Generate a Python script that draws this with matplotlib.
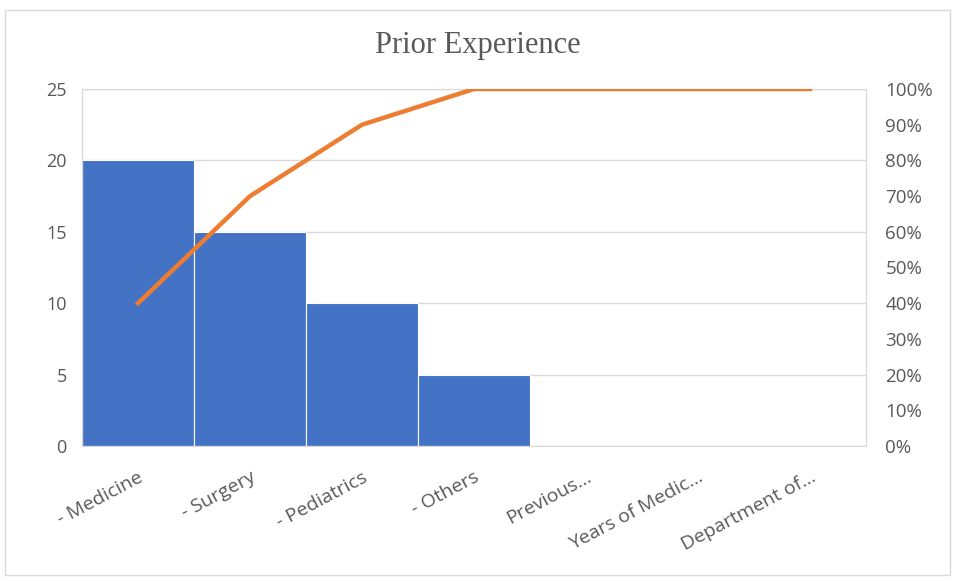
import matplotlib.pyplot as plt
import matplotlib.patches as patches
from matplotlib.ticker import PercentFormatter

categories = ["- Medicine", "- Surgery", "- Pediatrics", "- Others",
              "Previous...", "Years of Medic...", "Department of..."]
counts = [20, 15, 10, 5, 0, 0, 0]
cumulative_pct = [40, 70, 90, 100, 100, 100, 100]

GRAY = "#595959"
GRID = "#d9d9d9"

fig = plt.figure(figsize=(9.55, 5.81), dpi=100)
ax = fig.add_axes([0.0859, 0.2324, 0.8209, 0.6144])

# outer chart border
fig.patches.append(patches.Rectangle((0.005, 0.01), 0.99, 0.973, transform=fig.transFigure,
                                     fill=False, edgecolor=GRID, linewidth=1))

x = list(range(len(categories)))
ax.bar(x, counts, width=1.0, color="#4472C4", edgecolor="white", linewidth=0.8, zorder=2)
ax.set_xlim(-0.5, len(categories) - 0.5)
ax.set_ylim(0, 25)
ax.set_yticks([0, 5, 10, 15, 20, 25])
ax.yaxis.grid(True, color=GRID, linewidth=1, zorder=0)
ax.set_axisbelow(True)
for s in ax.spines.values():
    s.set_color(GRID)
ax.tick_params(axis="y", length=0, colors=GRAY, labelsize=13, pad=11)
ax.tick_params(axis="x", length=0, colors=GRAY, pad=16)
ax.set_xticks(x)
ax.set_xticklabels(categories, rotation=28, ha="right", rotation_mode="anchor",
                   fontfamily="Open Sans", fontsize=14)
for lbl in ax.get_yticklabels():
    lbl.set_fontfamily("Open Sans")

ax2 = ax.twinx()
ax2.plot(x, cumulative_pct, color="#ED7D31", linewidth=3.2, zorder=3)
ax2.set_ylim(0, 100)
ax2.set_yticks(range(0, 101, 10))
ax2.yaxis.set_major_formatter(PercentFormatter(decimals=0))
ax2.tick_params(axis="y", length=0, colors=GRAY, labelsize=13.5, pad=14)
for lbl in ax2.get_yticklabels():
    lbl.set_fontfamily("Open Sans")
for s in ax2.spines.values():
    s.set_color(GRID)

fig.text(0.5, 0.922, "Prior Experience", ha="center", va="center",
         fontfamily="Liberation Serif", fontsize=22, color=GRAY)

fig.savefig("out.png", dpi=100)
